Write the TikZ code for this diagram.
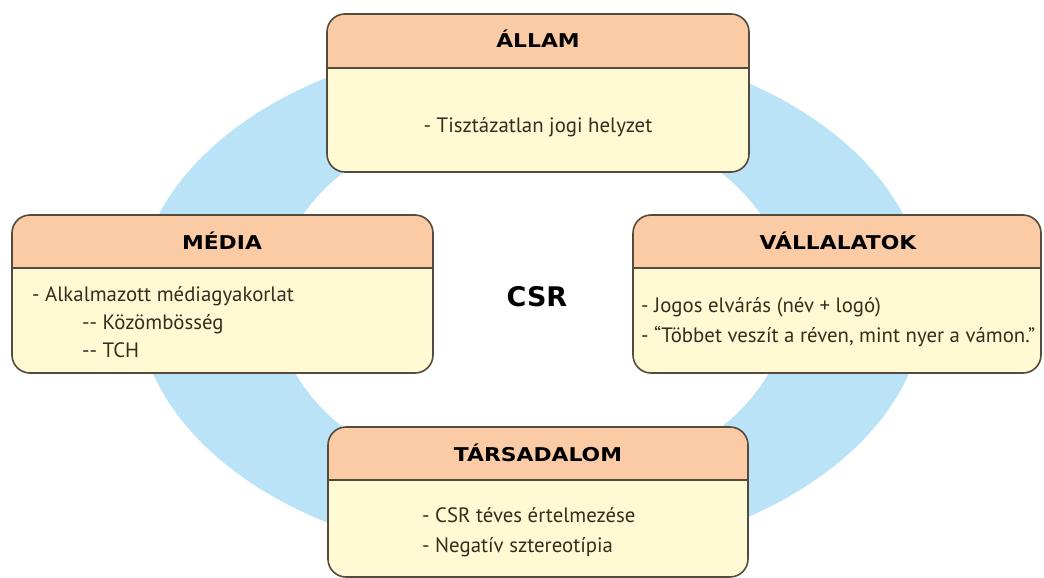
\documentclass[tikz,border=0pt]{standalone}
\usepackage{fontspec}
\setmainfont{PT Sans}
\newfontfamily\hdfont{DejaVu Sans}[FakeStretch=1.15]
\newfontfamily\csrfont{DejaVu Sans}
\definecolor{ringblue}{RGB}{186,227,248}
\definecolor{headc}{RGB}{251,203,165}
\definecolor{bodyc}{RGB}{255,249,212}
\definecolor{edgec}{RGB}{85,75,60}
\definecolor{txtc}{RGB}{55,45,30}
\newcommand\mkbox[6]{%
  \pgfmathsetmacro\pbw{#4-#2}\pgfmathsetmacro\pbh{#5-#3}%
  \pgfmathsetmacro\pbx{(#2+#4)/2}\pgfmathsetmacro\pby{(#3+#5)/2}%
  \node[panel, minimum width=\pbw pt, minimum height=\pbh pt] (#1) at (\pbx,\pby) {};
  \begin{scope}
    \clip[rounded corners=18pt] (#1.north west) rectangle (#1.south east);
    \fill[headc] (#1.north west) rectangle (#4,#6);
  \end{scope}
  \draw[edge] (#2,#6) -- (#4,#6);
  \draw[edge, rounded corners=18pt] (#1.north west) rectangle (#1.south east);
}
\begin{document}
\begin{tikzpicture}[x=1pt,y=-1pt,
  panel/.style={rectangle, fill=bodyc, rounded corners=18pt, inner sep=0pt, outer sep=0pt},
  edge/.style={draw=edgec, line width=1.6pt},
  ttl/.style={inner sep=0pt, anchor=base, text=black, font=\hdfont\bfseries\fontsize{19}{22}\selectfont},
  txt/.style={inner sep=0pt, anchor=base west, text=txtc, font=\fontsize{20.8}{24}\selectfont},
  ctxt/.style={txt, anchor=base}]
\useasboundingbox (0,0) rectangle (1044,578);
\fill[ringblue, even odd rule] (531,300) ellipse [x radius=394, y radius=260]
  (532,300) ellipse [x radius=257, y radius=188];

\mkbox{allam}{327}{14}{749}{172}{68}
\mkbox{media}{12}{215}{433}{373}{268}
\mkbox{vall}{633}{215}{1041}{373}{268}
\mkbox{tars}{328}{427}{748}{577}{480}

\node[ttl] (allamT) at (538,48) {ÁLLAM};
\node[ctxt] (allam1) at (538,132) {- Tisztázatlan jogi helyzet};

\node[ttl] (mediaT) at (222,249) {MÉDIA};
\node[txt] (media1) at (32,301) {- Alkalmazott médiagyakorlat};
\node[txt] (media2) at (82,329) {-{}- Közömbösség};
\node[txt] (media3) at (82,357) {-{}- TCH};

\node[ttl] (vallT) at (838,249) {VÁLLALATOK};
\node[txt] (vall1) at (641,312) {- Jogos elvárás (név + logó)};
\node[txt] (vall2) at (641,342) {- “Többet veszít a réven, mint nyer a vámon.”};

\node[ttl] (tarsT) at (538,461) {TÁRSADALOM};
\node[txt] (tars1) at (422,522) {- CSR téves értelmezése};
\node[txt] (tars2) at (422,552) {- Negatív sztereotípia};

\node[inner sep=0pt, anchor=base, font=\csrfont\bfseries\fontsize{27}{32}\selectfont] (csr) at (537,306) {CSR};
\end{tikzpicture}
\end{document}
